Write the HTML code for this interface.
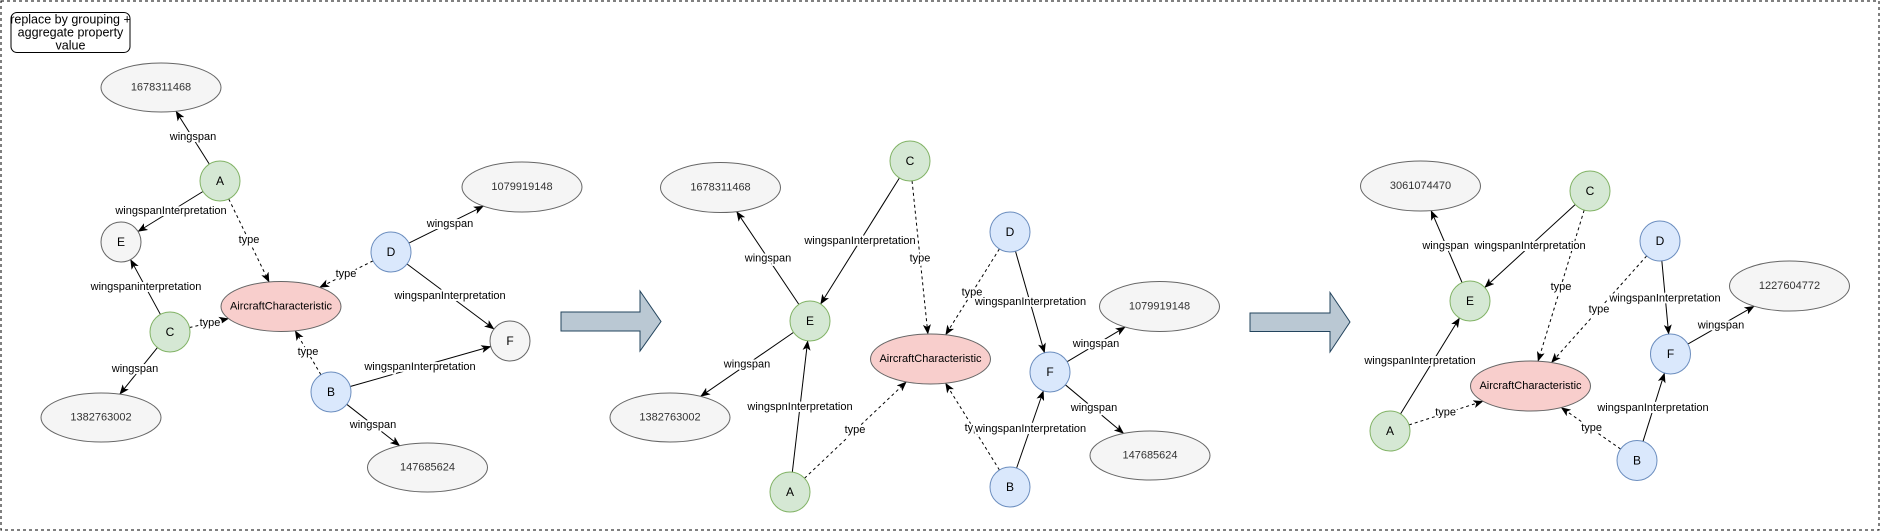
<!DOCTYPE html>
<html><head><meta charset="utf-8"><style>
html,body{margin:0;padding:0;background:#fff;}
svg{display:block;font-family:"Liberation Sans",Arial,sans-serif;}
.lbl{font-size:11px;fill:#000;text-anchor:middle;dominant-baseline:central;stroke:#fff;stroke-width:4px;paint-order:stroke;stroke-linejoin:round;}
.nt{font-size:12px;text-anchor:middle;dominant-baseline:central;fill:#000;}
.vt{font-size:11px;text-anchor:middle;dominant-baseline:central;fill:#333;}
</style></head><body>
<svg id="s" width="1881" height="532" viewBox="0 0 1881 532" xmlns="http://www.w3.org/2000/svg">
<defs>
<marker id="ar" viewBox="0 0 10 8" refX="9.5" refY="4" markerWidth="10" markerHeight="8" markerUnits="userSpaceOnUse" orient="auto">
<path d="M0,0 L10,4 L0,8 L2.5,4 z" fill="#000"/></marker>
</defs>
<rect x="1" y="1" width="1878" height="529" fill="none" stroke="#000" stroke-dasharray="3,3"/>
<rect x="11" y="12.5" width="119" height="40" rx="6" fill="#fff" stroke="#000"/>
<text x="70.5" y="19.5" class="nt" style="font-size:12.5px">replace by grouping +</text>
<text x="70.5" y="32.5" class="nt" style="font-size:12.5px">aggregate property</text>
<text x="70.5" y="45.5" class="nt" style="font-size:12.5px">value</text>

<path d="M561,312 L640,312 L640,291 L661,321.5 L640,351 L640,331 L561,331 Z" fill="#bac8d3" stroke="#23445d"/>
<path d="M1250,313 L1330,313 L1330,292.5 L1350,322 L1330,352 L1330,331.5 L1250,331.5 Z" fill="#bac8d3" stroke="#23445d"/>

<g id="edges"></g>
<g id="labels">
<text class="lbl" x="193" y="137">wingspan</text>
<text class="lbl" x="171" y="211">wingspanInterpretation</text>
<text class="lbl" x="249" y="240">type</text>
<text class="lbl" x="146" y="287">wingspaninterpretation</text>
<text class="lbl" x="210" y="323">type</text>
<text class="lbl" x="135" y="369">wingspan</text>
<text class="lbl" x="450" y="224">wingspan</text>
<text class="lbl" x="346" y="274">type</text>
<text class="lbl" x="450" y="296">wingspanInterpretation</text>
<text class="lbl" x="308" y="352">type</text>
<text class="lbl" x="420" y="367">wingspanInterpretation</text>
<text class="lbl" x="373" y="425">wingspan</text>
<text class="lbl" x="768" y="258.5">wingspan</text>
<text class="lbl" x="860" y="241">wingspanInterpretation</text>
<text class="lbl" x="920" y="258.5">type</text>
<text class="lbl" x="972" y="292.5">type</text>
<text class="lbl" x="1030.5" y="302">wingspanInterpretation</text>
<text class="lbl" x="1096" y="344">wingspan</text>
<text class="lbl" x="747" y="364.5">wingspan</text>
<text class="lbl" x="800" y="407">wingspnInterpretation</text>
<text class="lbl" x="855" y="430">type</text>
<text class="lbl" x="975" y="428">type</text>
<text class="lbl" x="1030.5" y="429">wingspanInterpretation</text>
<text class="lbl" x="1094" y="408">wingspan</text>
<text class="lbl" x="1445.6" y="246">wingspan</text>
<text class="lbl" x="1530" y="246">wingspanInterpretation</text>
<text class="lbl" x="1561" y="287">type</text>
<text class="lbl" x="1665" y="298.6">wingspanInterpretation</text>
<text class="lbl" x="1599" y="309.5">type</text>
<text class="lbl" x="1721" y="325.7">wingspan</text>
<text class="lbl" x="1420" y="361">wingspanInterpretation</text>
<text class="lbl" x="1445.6" y="412.6">type</text>
<text class="lbl" x="1653" y="408">wingspanInterpretation</text>
<text class="lbl" x="1591.6" y="428">type</text>
</g>

<g id="nodes">
<ellipse cx="161" cy="87.5" rx="60" ry="24.5" fill="#f5f5f5" stroke="#666"/><text class="vt" x="161" y="87.5">1678311468</text>
<ellipse cx="522" cy="187" rx="60" ry="25" fill="#f5f5f5" stroke="#666"/><text class="vt" x="522" y="187">1079919148</text>
<ellipse cx="101" cy="417.5" rx="60" ry="24.5" fill="#f5f5f5" stroke="#666"/><text class="vt" x="101" y="417.5">1382763002</text>
<ellipse cx="427.5" cy="467.5" rx="60" ry="24.5" fill="#f5f5f5" stroke="#666"/><text class="vt" x="427.5" y="467.5">147685624</text>
<ellipse cx="281" cy="306.5" rx="60" ry="25" fill="#f8cecc" stroke="#666"/><text class="vt" x="281" y="306.5" style="fill:#000">AircraftCharacteristic</text>
<circle cx="220" cy="181" r="20" fill="#d5e8d4" stroke="#82b366"/><text class="nt" x="220" y="181">A</text>
<circle cx="121" cy="242" r="20" fill="#f5f5f5" stroke="#666"/><text class="nt" x="121" y="242">E</text>
<circle cx="170" cy="332" r="20" fill="#d5e8d4" stroke="#82b366"/><text class="nt" x="170" y="332">C</text>
<circle cx="391" cy="252" r="20" fill="#dae8fc" stroke="#6c8ebf"/><text class="nt" x="391" y="252">D</text>
<circle cx="510" cy="341" r="20" fill="#f5f5f5" stroke="#666"/><text class="nt" x="510" y="341">F</text>
<circle cx="331" cy="392" r="20" fill="#dae8fc" stroke="#6c8ebf"/><text class="nt" x="331" y="392">B</text>
<ellipse cx="720.5" cy="187.5" rx="60" ry="25" fill="#f5f5f5" stroke="#666"/><text class="vt" x="720.5" y="187.5">1678311468</text>
<ellipse cx="1159.5" cy="306.5" rx="60" ry="25" fill="#f5f5f5" stroke="#666"/><text class="vt" x="1159.5" y="306.5">1079919148</text>
<ellipse cx="1150" cy="455.5" rx="60" ry="24.5" fill="#f5f5f5" stroke="#666"/><text class="vt" x="1150" y="455.5">147685624</text>
<ellipse cx="670" cy="417.5" rx="60" ry="24.5" fill="#f5f5f5" stroke="#666"/><text class="vt" x="670" y="417.5">1382763002</text>
<ellipse cx="930.5" cy="359" rx="60" ry="25" fill="#f8cecc" stroke="#666"/><text class="vt" x="930.5" y="359" style="fill:#000">AircraftCharacteristic</text>
<circle cx="910" cy="161" r="20" fill="#d5e8d4" stroke="#82b366"/><text class="nt" x="910" y="161">C</text>
<circle cx="1010" cy="232" r="20" fill="#dae8fc" stroke="#6c8ebf"/><text class="nt" x="1010" y="232">D</text>
<circle cx="810" cy="321" r="20" fill="#d5e8d4" stroke="#82b366"/><text class="nt" x="810" y="321">E</text>
<circle cx="1050" cy="372" r="20" fill="#dae8fc" stroke="#6c8ebf"/><text class="nt" x="1050" y="372">F</text>
<circle cx="790" cy="492" r="20" fill="#d5e8d4" stroke="#82b366"/><text class="nt" x="790" y="492">A</text>
<circle cx="1010" cy="487" r="20" fill="#dae8fc" stroke="#6c8ebf"/><text class="nt" x="1010" y="487">B</text>
<ellipse cx="1420.5" cy="186" rx="60" ry="25" fill="#f5f5f5" stroke="#666"/><text class="vt" x="1420.5" y="186">3061074470</text>
<ellipse cx="1789.5" cy="286" rx="60" ry="25" fill="#f5f5f5" stroke="#666"/><text class="vt" x="1789.5" y="286">1227604772</text>
<ellipse cx="1530.5" cy="386" rx="60" ry="25" fill="#f8cecc" stroke="#666"/><text class="vt" x="1530.5" y="386" style="fill:#000">AircraftCharacteristic</text>
<circle cx="1590" cy="191" r="20" fill="#d5e8d4" stroke="#82b366"/><text class="nt" x="1590" y="191">C</text>
<circle cx="1660" cy="241" r="20" fill="#dae8fc" stroke="#6c8ebf"/><text class="nt" x="1660" y="241">D</text>
<circle cx="1470" cy="301" r="20" fill="#d5e8d4" stroke="#82b366"/><text class="nt" x="1470" y="301">E</text>
<circle cx="1670.5" cy="354" r="20" fill="#dae8fc" stroke="#6c8ebf"/><text class="nt" x="1670.5" y="354">F</text>
<circle cx="1390" cy="431" r="20" fill="#d5e8d4" stroke="#82b366"/><text class="nt" x="1390" y="431">A</text>
<circle cx="1637" cy="460.5" r="20" fill="#dae8fc" stroke="#6c8ebf"/><text class="nt" x="1637" y="460.5">B</text>
</g>
</svg>
<script>
(function(){
var N={
a1:[220,181,20,20],e1:[121,242,20,20],c1:[170,332,20,20],d1:[391,252,20,20],f1:[510,341,20,20],b1:[331,392,20,20],
v1a:[161,87.5,60,24.5],v1b:[522,187,60,25],v1c:[101,417.5,60,24.5],v1d:[427.5,467.5,60,24.5],ac1:[281,306.5,60,25],
c2:[910,161,20,20],d2:[1010,232,20,20],e2:[810,321,20,20],f2:[1050,372,20,20],a2:[790,492,20,20],b2:[1010,487,20,20],
v2a:[720.5,187.5,60,25],v2b:[1159.5,306.5,60,25],v2c:[1150,455.5,60,24.5],v2d:[670,417.5,60,24.5],ac2:[930.5,359,60,25],
c3:[1590,191,20,20],d3:[1660,241,20,20],e3:[1470,301,20,20],f3:[1670.5,354,20,20],a3:[1390,431,20,20],b3:[1637,460.5,20,20],
v3a:[1420.5,186,60,25],v3b:[1789.5,286,60,25],ac3:[1530.5,386,60,25]};
var E=[
['a1','v1a'],['a1','e1'],['a1','ac1',1],['c1','e1'],['c1','ac1',1],['c1','v1c'],['d1','v1b'],['d1','ac1',1],['d1','f1'],['b1','ac1',1],['b1','f1'],['b1','v1d'],
['e2','v2a'],['c2','e2'],['c2','ac2',1],['d2','ac2',1],['d2','f2'],['f2','v2b'],['e2','v2d'],['a2','e2'],['a2','ac2',1],['b2','ac2',1],['b2','f2'],['f2','v2c'],
['e3','v3a'],['c3','e3'],['c3','ac3',1],['d3','ac3',1],['d3','f3'],['f3','v3b'],['a3','e3'],['a3','ac3',1],['b3','ac3',1],['b3','f3']];
function bp(n,dx,dy){var t=1/Math.sqrt((dx/n[2])*(dx/n[2])+(dy/n[3])*(dy/n[3]));return [n[0]+dx*t,n[1]+dy*t];}
var g=document.getElementById('edges'),ns='http://www.w3.org/2000/svg';
E.forEach(function(e){var s=N[e[0]],t=N[e[1]],dx=t[0]-s[0],dy=t[1]-s[1];
var p=bp(s,dx,dy),q=bp(t,-dx,-dy);
var l=document.createElementNS(ns,'line');
l.setAttribute('x1',p[0]);l.setAttribute('y1',p[1]);l.setAttribute('x2',q[0]);l.setAttribute('y2',q[1]);
l.setAttribute('stroke','#000');l.setAttribute('stroke-width','1');l.setAttribute('marker-end','url(#ar)');
if(e[2])l.setAttribute('stroke-dasharray','3,3');g.appendChild(l);});
})();
</script>
</body></html>
